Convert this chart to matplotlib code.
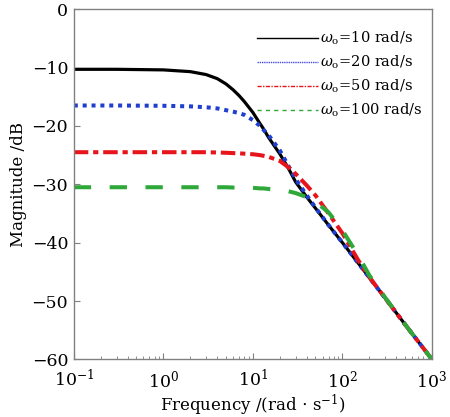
import numpy as np
import matplotlib
matplotlib.use("Agg")
from matplotlib import pyplot as plt
from matplotlib.lines import Line2D

plt.rcParams['font.family'] = ['DejaVu Serif']
plt.rcParams['mathtext.fontset'] = 'dejavuserif'

freq = [0.1, 0.3, 1, 2, 3, 4, 5, 6, 7, 8, 10, 12, 13, 15, 20, 25, 30, 40, 50, 70,
        100, 150, 200, 300, 500, 1000]
mag_10 = [-10.3, -10.3, -10.4, -10.7, -11.2, -11.9, -12.8, -13.8, -14.8, -15.8, -17.7,
          -19.6, -20.4, -22.0, -24.8, -27.3, -29.6, -32.2, -34.1, -37.0,
          -40.0, -43.5, -46.0, -49.5, -54.0, -60.0]
mag_20 = [-16.5, -16.5, -16.55, -16.65, -16.8, -17.0, -17.3, -17.55, -17.8, -18.1, -19.0,
          -20.0, -20.6, -21.6, -24.2, -26.9, -29.1, -31.9, -34.0, -37.0,
          -40.0, -43.5, -46.0, -49.5, -54.0, -60.0]
mag_50 = [-24.5, -24.5, -24.5, -24.5, -24.5, -24.55, -24.6, -24.65, -24.7, -24.75, -24.85,
          -25.0, -25.1, -25.3, -26.0, -27.1, -28.2, -30.2, -31.9, -35.0,
          -38.4, -43.0, -45.9, -49.5, -54.0, -60.0]
mag_100 = [-30.5, -30.5, -30.5, -30.5, -30.5, -30.5, -30.5, -30.55, -30.55, -30.6, -30.6,
           -30.7, -30.7, -30.8, -31.0, -31.2, -31.5, -32.2, -33.0, -34.8,
           -37.9, -42.2, -45.6, -49.4, -54.0, -60.0]
labels = [r'$\omega_{\rm o}$=10 rad/s', r'$\omega_{\rm o}$=20 rad/s',
          r'$\omega_{\rm o}$=50 rad/s', r'$\omega_{\rm o}$=100 rad/s']

fig = plt.figure(figsize=(4.5, 4.17), dpi=100)
ax = fig.add_axes([0.164, 0.138, 0.796, 0.84])

lw = 2.3
ax.semilogx(freq, mag_10, color='black', lw=lw, solid_capstyle='butt')
ax.semilogx(freq, mag_20, color='#1f3fd0', lw=lw + 0.6, dashes=(1.0, 1.2))
ax.semilogx(freq, mag_50, color='#e8141c', lw=lw + 0.6, dashes=(3.6, 1.2, 1.3, 1.2))
ax.semilogx(freq, mag_100, color='#2fa83a', lw=lw + 0.6, dashes=(4.3, 4.6))

handles = [
    Line2D([], [], color='black', lw=1.0),
    Line2D([], [], color='#4a4ae0', lw=1.0, dashes=(1, 0.6)),
    Line2D([], [], color='#e8141c', lw=1.0, dashes=(3, 1, 1, 1)),
    Line2D([], [], color='#2fa83a', lw=1.0, dashes=(3, 3)),
]
ax.legend(handles, labels, loc='upper right', frameon=False, fontsize=10.5,
          handlelength=4.2, handletextpad=0.1, labelspacing=0.45,
          borderaxespad=0.3, bbox_to_anchor=(1.0, 0.97))

ax.set_xlim(0.1, 1000)
ax.set_ylim(-60, 0)
ax.set_yticks([0, -10, -20, -30, -40, -50, -60])
ax.set_xlabel(r'Frequency /(rad $\cdot$ s$^{-1}$)', fontsize=12, labelpad=1)
ax.set_ylabel('Magnitude /dB', fontsize=12, labelpad=3)

for s in ax.spines.values():
    s.set_color('#808080')
    s.set_linewidth(1.0)
ax.tick_params(axis='both', which='both', direction='in', top=False, right=False,
               colors='#808080', labelcolor='black', labelsize=12.5)
ax.tick_params(axis='both', which='major', length=4)
ax.tick_params(axis='y', which='major', pad=4)
ax.tick_params(axis='x', which='major', pad=7)
ax.tick_params(axis='x', which='minor', length=2.5)

fig.savefig('out.png', dpi=100)
